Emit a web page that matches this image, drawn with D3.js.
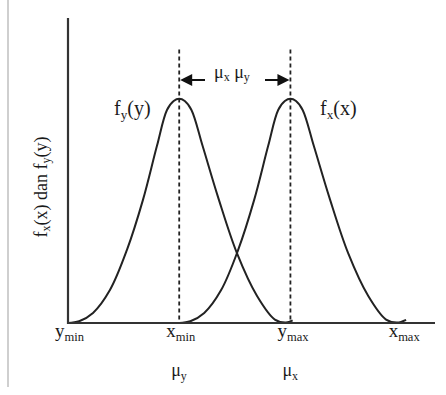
<!DOCTYPE html>
<html>
<head>
<meta charset="utf-8">
<script src="https://cdn.jsdelivr.net/npm/d3@7"></script>
<style>
  body { margin: 0; background: #fff; }
  text { font-family: "Liberation Serif", "DejaVu Serif", serif; fill: #1a1a1a; }
</style>
</head>
<body>
<div id="chart"></div>
<script>
// curve samples (x in units where ymin=0, xmin=1, ymax=2, xmax=3)
const fyX = [0, 0.1, 0.225, 0.377, 0.53, 0.674, 0.80, 0.89, 0.95, 1.0, 1.05, 1.11, 1.21, 1.35, 1.52, 1.70, 1.86, 1.96, 2.02];
const fyY = [0, 0.008, 0.045, 0.147, 0.326, 0.549, 0.79, 0.95, 0.99, 1.0, 0.99, 0.95, 0.79, 0.56, 0.31, 0.12, 0.015, 0.002, 0.012];
const fxX = [1.0, 1.1, 1.225, 1.377, 1.53, 1.674, 1.80, 1.89, 1.95, 2.0, 2.05, 2.11, 2.21, 2.35, 2.52, 2.70, 2.86, 2.96, 3.04];
const fxY = [0, 0.008, 0.045, 0.147, 0.326, 0.549, 0.79, 0.95, 0.99, 1.0, 0.99, 0.95, 0.79, 0.56, 0.31, 0.12, 0.015, 0.002, 0.014];

// tick positions and labels along the x axis
const tickVals = [0, 1, 2, 3];
const tickMain = ['y', 'x', 'y', 'x'];
const tickSub = ['min', 'min', 'max', 'max'];
const meanVals = [1, 2];
const meanSub = ['y', 'x'];

const width = 446, height = 395;
const svg = d3.select('#chart').append('svg')
  .attr('width', width)
  .attr('height', height);

const x = d3.scaleLinear().domain([0, 3.3]).range([68, 435]);
const y = d3.scaleLinear().domain([0, 1.36]).range([323, 18]);

// faint left border
svg.append('line')
  .attr('x1', 8).attr('x2', 8).attr('y1', 0).attr('y2', 387)
  .attr('stroke', '#cfcfcf').attr('stroke-width', 2);

// dashed mean lines
svg.selectAll('.mean')
  .data(meanVals)
  .enter().append('line')
  .attr('class', 'mean')
  .attr('x1', d => x(d)).attr('x2', d => x(d))
  .attr('y1', y(1.22)).attr('y2', y(0))
  .attr('stroke', '#222').attr('stroke-width', 1.8)
  .attr('stroke-dasharray', '4,3');

const line = d3.line()
  .x(d => x(d[0]))
  .y(d => y(d[1]))
  .curve(d3.curveCatmullRom.alpha(0.5));

[[fyX, fyY], [fxX, fxY]].forEach(([xs, ys]) => {
  svg.append('path')
    .datum(xs.map((v, i) => [v, ys[i]]))
    .attr('d', line)
    .attr('fill', 'none')
    .attr('stroke', '#222')
    .attr('stroke-width', 2);
});

// axes
svg.append('line')
  .attr('x1', x(0)).attr('x2', x(0)).attr('y1', y(1.36)).attr('y2', y(0) + 1)
  .attr('stroke', '#333').attr('stroke-width', 2.2);
svg.append('line')
  .attr('x1', x(0) - 1).attr('x2', x(3.3)).attr('y1', y(0)).attr('y2', y(0))
  .attr('stroke', '#333').attr('stroke-width', 2.2);

// helper: text with subscript
function subText(g, main, sub, rest, size) {
  const t = g.append('text').attr('font-size', size);
  t.append('tspan').text(main);
  t.append('tspan').attr('font-size', size * 0.66).attr('dy', size * 0.2).text(sub);
  if (rest) t.append('tspan').attr('dy', -size * 0.2).text(rest);
  return t;
}

// x tick labels
tickVals.forEach((v, i) => {
  subText(svg, tickMain[i], tickSub[i], null, 19)
    .attr('x', x(v) - 13).attr('y', 337);
});

// means under axis
meanVals.forEach((v, i) => {
  subText(svg, 'μ', meanSub[i], null, 18)
    .attr('x', x(v) - 8).attr('y', 376);
});

// curve labels
subText(svg, 'f', 'y', '(y)', 20).attr('x', 114).attr('y', 115);
subText(svg, 'f', 'x', '(x)', 20).attr('x', 320).attr('y', 115);

// distance label and arrows
const muLabel = svg.append('text').attr('font-size', 18).attr('x', 214).attr('y', 78);
muLabel.append('tspan').text('μ');
muLabel.append('tspan').attr('font-size', 12).attr('dy', 3).text('x');
muLabel.append('tspan').attr('dy', -3).text(' μ');
muLabel.append('tspan').attr('font-size', 12).attr('dy', 3).text('y');

const ay = 80;
svg.append('line').attr('x1', x(1) + 8).attr('x2', 205).attr('y1', ay).attr('y2', ay)
  .attr('stroke', '#111').attr('stroke-width', 2);
svg.append('path')
  .attr('d', `M${x(1) + 1},${ay} L${x(1) + 13},${ay - 6} L${x(1) + 13},${ay + 6} Z`)
  .attr('fill', '#111');
svg.append('line').attr('x1', 265).attr('x2', x(2) - 8).attr('y1', ay).attr('y2', ay)
  .attr('stroke', '#111').attr('stroke-width', 2);
svg.append('path')
  .attr('d', `M${x(2) - 1},${ay} L${x(2) - 13},${ay - 6} L${x(2) - 13},${ay + 6} Z`)
  .attr('fill', '#111');

// y axis title
const yt = svg.append('text').attr('font-size', 18)
  .attr('text-anchor', 'middle')
  .attr('transform', 'translate(47,187) rotate(-90)');
yt.append('tspan').text('f');
yt.append('tspan').attr('font-size', 12).attr('dy', 3).text('x');
yt.append('tspan').attr('dy', -3).text('(x) dan f');
yt.append('tspan').attr('font-size', 12).attr('dy', 3).text('y');
yt.append('tspan').attr('dy', -3).text('(y)');
</script>
</body>
</html>
